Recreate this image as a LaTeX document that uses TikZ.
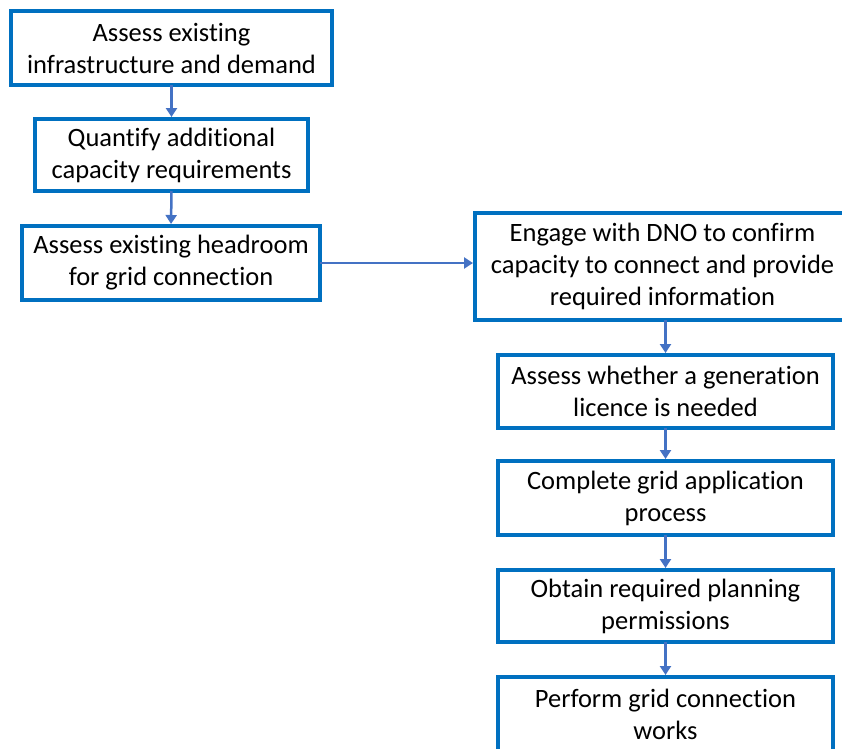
\documentclass[tikz,border=0pt]{standalone}
\usepackage{fontspec}
\setmainfont[Ligatures={NoCommon}]{Carlito}
\usetikzlibrary{arrows.meta}
\definecolor{boxblue}{RGB}{0,112,192}
\definecolor{arrblue}{RGB}{68,114,196}
\tikzset{
  stepbox/.style={draw=boxblue, line width=4pt, fill=white, rectangle, inner sep=0pt, outer sep=0pt,
    align=center, font=\fontsize{26.5pt}{32pt}\selectfont},
  flow/.style={draw=arrblue, line width=2.5pt, -{Triangle[length=9pt,width=11pt]}, shorten >=2pt}
}
\begin{document}
\begin{tikzpicture}[x=1pt,y=-1pt]
\useasboundingbox (0,0) rectangle (842,748);
\clip (0,0) rectangle (842,748);
\node[stepbox, minimum width=321pt, minimum height=74pt] (b1) at (171.5,48) {Assess existing\\infrastructure and demand};
\node[stepbox, minimum width=273pt, minimum height=72pt] (b2) at (171.5,155) {Quantify additional\\capacity requirements};
\node[stepbox, minimum width=298pt, minimum height=74pt] (b3) at (171,263) {Assess existing headroom\\for grid connection};
\node[stepbox, minimum width=375pt, minimum height=107pt] (b4) at (662.5,266.5) {Engage with DNO to confirm\\capacity to connect and provide\\required information};
\node[stepbox, minimum width=335pt, minimum height=73pt] (b5) at (665.5,391.5) {Assess whether a generation\\licence is needed};
\node[stepbox, minimum width=335pt, minimum height=74pt] (b6) at (665.5,498) {Complete grid application\\process};
\node[stepbox, minimum width=335pt, minimum height=72pt] (b7) at (665.5,606) {Obtain required planning\\permissions};
\node[stepbox, minimum width=335pt, minimum height=74pt] (b8) at (665.5,714) {Perform grid connection\\works};
\draw[flow] (b1.south) -- (b2.north);
\draw[flow] (b2.south) -- (b3.north);
\draw[flow] (b3.east) -- (b3.east -| b4.west);
\draw[flow] (b5.north |- b4.south) -- (b5.north);
\draw[flow] (b5.south) -- (b6.north);
\draw[flow] (b6.south) -- (b7.north);
\draw[flow] (b7.south) -- (b8.north);
\end{tikzpicture}
\end{document}
